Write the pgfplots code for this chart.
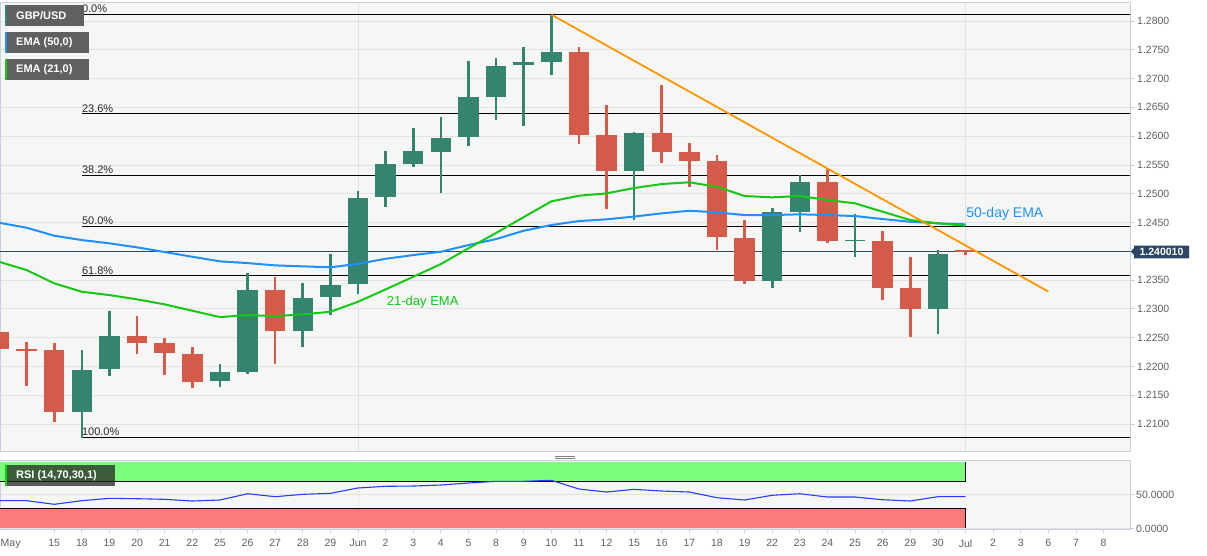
\documentclass[border=0pt]{standalone}
\usepackage{fontspec}
\setmainfont{Liberation Sans}
\usepackage{pgfplots}
\usepackage{pgfplotstable}
\pgfplotsset{compat=1.18}

\definecolor{cgreen}{RGB}{53,132,112}
\definecolor{cred}{RGB}{212,90,74}
\definecolor{emaf}{RGB}{30,144,255}
\definecolor{emas}{RGB}{20,200,20}
\definecolor{trendc}{RGB}{255,152,0}
\definecolor{bgc}{RGB}{246,246,246}
\definecolor{gridc}{RGB}{226,226,226}
\definecolor{axisc}{RGB}{200,208,224}
\definecolor{tickc}{RGB}{96,96,96}
\definecolor{pricec}{RGB}{52,73,94}
\definecolor{tagc}{RGB}{44,70,100}
\definecolor{boxc}{RGB}{96,96,96}
\definecolor{bandg}{RGB}{125,253,125}
\definecolor{bandr}{RGB}{252,122,122}
\definecolor{rsic}{RGB}{40,60,250}
\definecolor{fibt}{RGB}{40,40,40}

\pgfplotstableread{
i O H L C
3 1.2121 1.2228 1.2075 1.2194
4 1.2195 1.2296 1.2184 1.2253
8 1.2174 1.2204 1.2164 1.2190
9 1.2190 1.2363 1.2186 1.2333
11 1.2261 1.2345 1.2233 1.2319
12 1.2320 1.2395 1.2290 1.2341
13 1.2343 1.2505 1.2326 1.2493
14 1.2494 1.2575 1.2477 1.2551
15 1.2551 1.2615 1.2546 1.2574
16 1.2572 1.2633 1.2501 1.2597
17 1.2598 1.2731 1.2583 1.2668
18 1.2668 1.2735 1.2628 1.2722
19 1.2724 1.2755 1.2618 1.2729
20 1.2729 1.2811 1.2706 1.2747
23 1.2539 1.2607 1.2454 1.2605
28 1.2348 1.2476 1.2336 1.2468
29 1.2469 1.2532 1.2433 1.2520
31 1.2418 1.2464 1.2390 1.2420
34 1.2299 1.2402 1.2257 1.2395
}\greentab

\pgfplotstableread{
i O H L C
0 1.2260 1.2340 1.2211 1.2231
1 1.2231 1.2242 1.2166 1.2227
2 1.2228 1.2240 1.2103 1.2121
5 1.2253 1.2287 1.2221 1.2240
6 1.2240 1.2250 1.2186 1.2223
7 1.2222 1.2233 1.2162 1.2173
10 1.2333 1.2355 1.2205 1.2261
21 1.2747 1.2754 1.2586 1.2602
22 1.2602 1.2654 1.2473 1.2539
24 1.2605 1.2689 1.2553 1.2572
25 1.2572 1.2589 1.2511 1.2556
26 1.2556 1.2567 1.2402 1.2424
27 1.2424 1.2455 1.2344 1.2348
30 1.2520 1.2543 1.2414 1.2418
32 1.2418 1.2436 1.2315 1.2337
33 1.2336 1.2390 1.2251 1.2299
35 1.2402 1.2402 1.2393 1.2400
}\redtab

\pgfplotstableread{
i e50 e21
0 1.24496 1.23818
1 1.24409 1.23674
2 1.24270 1.23443
3 1.24195 1.23297
4 1.24138 1.23239
5 1.24068 1.23165
6 1.23987 1.23078
7 1.23905 1.22967
8 1.23825 1.22857
9 1.23795 1.22892
10 1.23755 1.22874
11 1.23738 1.22904
12 1.23722 1.22949
13 1.23781 1.23123
14 1.23870 1.23338
15 1.23934 1.23557
16 1.23992 1.23778
17 1.24108 1.24052
18 1.24212 1.24318
19 1.24357 1.24593
20 1.24456 1.24867
21 1.24525 1.24965
22 1.24555 1.25006
23 1.24603 1.25099
24 1.24659 1.25168
25 1.24704 1.25198
26 1.24676 1.25121
27 1.24629 1.24960
28 1.24629 1.24937
29 1.24642 1.24960
30 1.24629 1.24890
31 1.24612 1.24833
32 1.24560 1.24687
33 1.24513 1.24543
34 1.24485 1.24485
35 1.24468 1.24444
}\ematab

\pgfplotstableread{
i rsi
0 41.3
1 41.3
2 35.9
3 41.3
4 44.8
5 44.2
6 43.3
7 40.8
8 42.3
9 51.6
10 47.2
11 50.7
12 52.2
13 60.1
14 62.6
15 63.0
16 64.5
17 67.5
18 70.0
19 70.0
20 71.5
21 58.6
22 54.1
23 58.1
24 55.6
25 54.1
26 45.7
27 42.3
28 49.3
29 51.6
30 46.7
31 46.7
32 42.7
33 40.8
34 47.2
35 47.2
}\rsitab

\newcommand{\tickfont}{\fontsize{10.5}{12}\selectfont}

\begin{document}
\begin{tikzpicture}
\path[use as bounding box] (0pt,0pt) rectangle (1207pt,555pt);
\fill[white] (0pt,0pt) rectangle (1207pt,555pt);

% ---------------- main price panel ----------------
\begin{axis}[
  at={(0pt,104pt)}, anchor=south west, scale only axis,
  width=1130pt, height=449pt,
  xmin=0.0355, xmax=40.957, ymin=1.20531, ymax=1.28330,
  axis background/.style={fill=bgc},
  axis line style={draw=axisc, line width=0.8pt},
  xtick={13,35}, xticklabels={}, xmajorgrids,
  xtick style={draw=none},
  ytick={1.21,1.215,1.22,1.225,1.23,1.235,1.245,1.25,1.255,1.26,1.265,1.27,1.275,1.28},
  ytick pos=right, yticklabel pos=right, ymajorgrids,
  grid style={draw=gridc, line width=0.8pt},
  ytick style={draw=axisc, line width=0.8pt},
  tick align=outside, major tick length=5pt,
  scaled y ticks=false,
  yticklabel style={font=\tickfont, text=tickc, inner xsep=2pt,
    /pgf/number format/.cd, fixed, fixed zerofill, precision=4, assume math mode=true},
  clip=true,
]
% Fibonacci levels
\addplot[black, line width=0.9pt, forget plot] coordinates {(3,1.2812) (41,1.2812)};
\addplot[black, line width=0.9pt, forget plot] coordinates {(3,1.2639) (41,1.2639)};
\addplot[black, line width=0.9pt, forget plot] coordinates {(3,1.2532) (41,1.2532)};
\addplot[black, line width=0.9pt, forget plot] coordinates {(3,1.2444) (41,1.2444)};
\addplot[black, line width=0.9pt, forget plot] coordinates {(3,1.2358) (41,1.2358)};
\addplot[black, line width=0.9pt, forget plot] coordinates {(3,1.2077) (41,1.2077)};
% current price line
\addplot[pricec, line width=0.9pt, forget plot] coordinates {(0,1.24001) (41,1.24001)};

% candles: wicks
\addplot[draw=none, forget plot, error bars/.cd, y dir=both, y explicit, error mark=none,
  error bar style={draw=cgreen, line width=2.6pt}]
  table[x=i, y expr={(\thisrow{H}+\thisrow{L})/2}, y error expr={(\thisrow{H}-\thisrow{L})/2}] {\greentab};
\addplot[draw=none, forget plot, error bars/.cd, y dir=both, y explicit, error mark=none,
  error bar style={draw=cred, line width=2.6pt}]
  table[x=i, y expr={(\thisrow{H}+\thisrow{L})/2}, y error expr={(\thisrow{H}-\thisrow{L})/2}] {\redtab};
% candles: bodies
\addplot[draw=none, forget plot, error bars/.cd, y dir=both, y explicit, error mark=none,
  error bar style={draw=cgreen, line width=20.5pt}]
  table[x=i, y expr={(\thisrow{O}+\thisrow{C})/2}, y error expr={abs(\thisrow{C}-\thisrow{O})/2}] {\greentab};
\addplot[draw=none, forget plot, error bars/.cd, y dir=both, y explicit, error mark=none,
  error bar style={draw=cred, line width=20.5pt}]
  table[x=i, y expr={(\thisrow{O}+\thisrow{C})/2}, y error expr={abs(\thisrow{C}-\thisrow{O})/2}] {\redtab};

% EMAs
\addplot[emaf, line width=2pt] table[x=i, y=e50] {\ematab};
\addplot[emas, line width=2pt] table[x=i, y=e21] {\ematab};
% trend line
\addplot[trendc, line width=1.8pt] coordinates {(20,1.2811) (38,1.2330)};

% labels
\node[anchor=south west, inner xsep=0pt, inner ysep=1pt, font=\fontsize{11}{12}\selectfont, text=fibt] at (axis cs:3,1.2812) {0.0\%};
\node[anchor=south west, inner xsep=0pt, inner ysep=1pt, font=\fontsize{11}{12}\selectfont, text=fibt] at (axis cs:3,1.2639) {23.6\%};
\node[anchor=south west, inner xsep=0pt, inner ysep=1pt, font=\fontsize{11}{12}\selectfont, text=fibt] at (axis cs:3,1.2532) {38.2\%};
\node[anchor=south west, inner xsep=0pt, inner ysep=1pt, font=\fontsize{11}{12}\selectfont, text=fibt] at (axis cs:3,1.2444) {50.0\%};
\node[anchor=south west, inner xsep=0pt, inner ysep=1pt, font=\fontsize{11}{12}\selectfont, text=fibt] at (axis cs:3,1.2358) {61.8\%};
\node[anchor=south west, inner xsep=0pt, inner ysep=1pt, font=\fontsize{11}{12}\selectfont, text=fibt] at (axis cs:3,1.2077) {100.0\%};
\node[anchor=west, inner sep=0pt, font=\fontsize{14}{16}\selectfont, text=emaf] at (axis cs:35.02,1.24646) {50-day EMA};
\node[anchor=west, inner sep=0pt, font=\fontsize{13}{15}\selectfont, text=emas] at (axis cs:14.04,1.23123) {21-day EMA};
\end{axis}

% ---------------- RSI panel ----------------
\begin{axis}[
  at={(0pt,26pt)}, anchor=south west, scale only axis,
  width=1130pt, height=69pt,
  xmin=0.0355, xmax=40.957, ymin=-0.7, ymax=101.6,
  axis background/.style={fill=bgc},
  axis line style={draw=axisc, line width=0.8pt},
  ytick={0,50}, ytick pos=right, yticklabel pos=right, ymajorgrids,
  grid style={draw=gridc, line width=0.8pt},
  tick style={draw=axisc, line width=0.8pt},
  tick align=outside, major tick length=4pt,
  yticklabel style={font=\tickfont, text=tickc, inner xsep=2pt,
    /pgf/number format/.cd, fixed, fixed zerofill, precision=4, assume math mode=true},
  xtick={2,...,40}, xtick pos=bottom,
  xticklabels={15,18,19,20,21,22,25,26,27,28,29,Jun,2,3,4,5,8,9,10,11,12,15,16,17,18,19,22,23,24,25,26,29,30,Jul,2,3,6,7,8},
  extra x ticks={0.42}, extra x tick labels={May},
  extra x tick style={major tick style={draw=none}},
  xticklabel style={font=\tickfont, text=tickc, yshift=-3pt},
  clip=true,
]
\addplot[gridc, line width=0.8pt, densely dotted, forget plot] coordinates {(13,-1) (13,102)};
\addplot[fill=bandg, draw=none, forget plot] coordinates {(0,70) (35,70) (35,98.3) (0,98.3)} -- cycle;
\addplot[fill=bandr, draw=none, forget plot] coordinates {(0,0.5) (35,0.5) (35,30) (0,30)} -- cycle;
\addplot[black, line width=0.9pt, forget plot] coordinates {(0,70) (35,70) (35,98.3)};
\addplot[black, line width=0.9pt, forget plot] coordinates {(0,30) (35,30) (35,0.5)};
\addplot[rsic, line width=1.1pt] table[x=i, y=rsi] {\rsitab};
\end{axis}

% ---------------- decorations ----------------
\begin{scope}[x=1pt,y=1pt]
% legend boxes
\fill[boxc] (5,529.3) rectangle (84,550.3);
\fill[cgreen] (5,529.3) rectangle (7,550.3);
\node[anchor=west, inner sep=0pt, text=white, font=\bfseries\fontsize{11}{12}\selectfont] at (16,539.8) {GBP/USD};
\fill[boxc] (5,502) rectangle (89,523);
\fill[emaf] (5,502) rectangle (7,523);
\node[anchor=west, inner sep=0pt, text=white, font=\bfseries\fontsize{11}{12}\selectfont] at (16,512.5) {EMA (50,0)};
\fill[boxc] (5,475) rectangle (89,496);
\fill[emas] (5,475) rectangle (7,496);
\node[anchor=west, inner sep=0pt, text=white, font=\bfseries\fontsize{11}{12}\selectfont] at (16,485.5) {EMA (21,0)};
% RSI label
\fill[black!85, opacity=0.75] (5,69) rectangle (115,90);
\fill[green!85!black] (5,69) rectangle (7,90);
\node[anchor=west, inner sep=0pt, text=white, font=\bfseries\fontsize{11}{12}\selectfont] at (16,79.5) {RSI (14,70,30,1)};
% price tag
\fill[tagc] (1130.5,303.5) -- (1134,307) -- (1134,309.3) -- (1189,309.3) -- (1189,296.7) -- (1134,296.7) -- (1134,300) -- cycle;
\node[text=white, inner sep=0pt, font=\bfseries\fontsize{10.5}{12}\selectfont] at (1161.5,303) {1.240010};
% splitter
\draw[gray, line width=0.7pt] (555,99) -- (575,99);
\draw[gray, line width=0.7pt] (555,97) -- (575,97);
\end{scope}
\end{tikzpicture}
\end{document}
